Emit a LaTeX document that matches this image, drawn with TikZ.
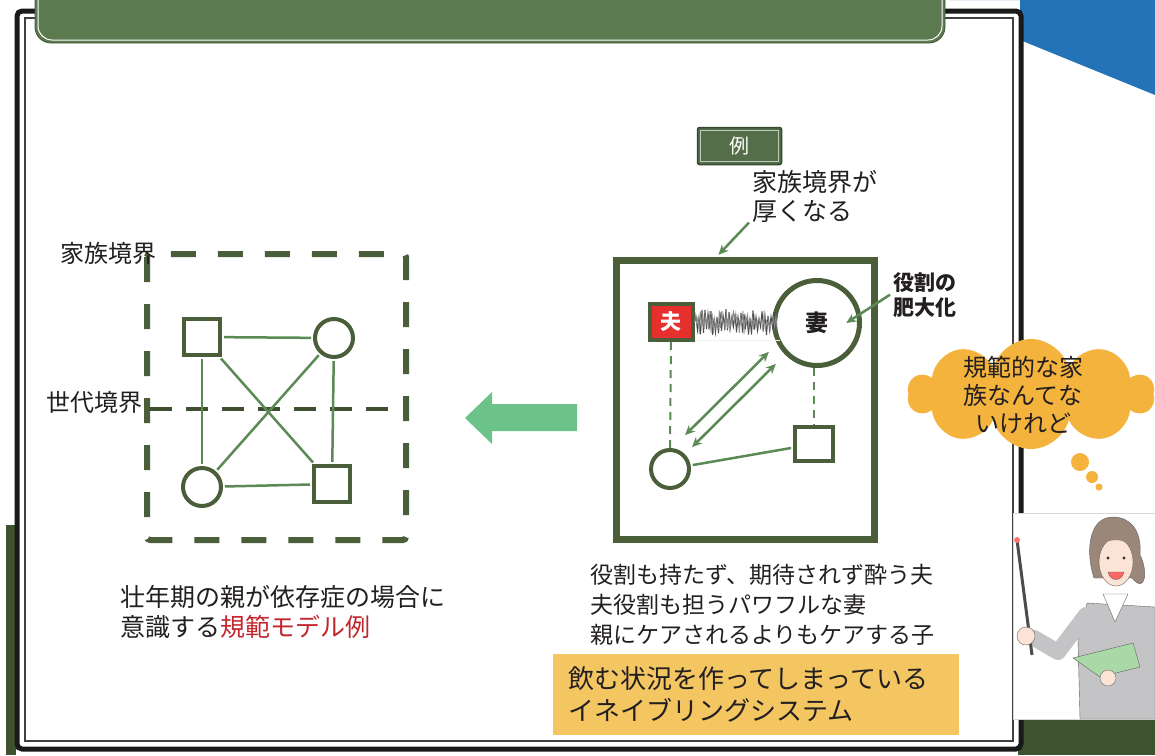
\documentclass[tikz,border=0pt]{standalone}
\usepackage{fontspec}
\setmainfont{Noto Sans CJK JP}
\usetikzlibrary{positioning,calc,shapes.symbols,arrows.meta}

\definecolor{boxgreen}{HTML}{4A5E3A}
\definecolor{linkgreen}{HTML}{5B8A55}
\definecolor{headgreen}{HTML}{5C7A50}
\definecolor{arrowgreen}{HTML}{6CC38A}
\definecolor{stripgreen}{HTML}{3E5230}
\definecolor{inkc}{HTML}{231F20}
\definecolor{husbandred}{HTML}{E5302E}
\definecolor{notered}{HTML}{C1272D}
\definecolor{noteyellow}{HTML}{F3C662}
\definecolor{cloudorange}{HTML}{F3B33D}
\definecolor{cornerblue}{HTML}{2473B8}
\definecolor{suitgray}{HTML}{C4C4C6}
\definecolor{hairbrown}{HTML}{9A8779}
\definecolor{skin}{HTML}{FBE4D5}
\definecolor{bookgreen}{HTML}{A9D9A6}

\tikzset{
  member/.style={draw=boxgreen, line width=4pt, fill=white, inner sep=0pt},
  male/.style={member, minimum width=36pt, minimum height=36pt},
  female/.style={member, circle, minimum size=38pt},
  link/.style={linkgreen, line width=2.5pt},
  tie/.style={linkgreen, line width=2pt, dash pattern=on 8pt off 6pt},
  pointer/.style={linkgreen, line width=2.5pt, -{Stealth[length=10pt,width=9pt]}},
  care/.style={linkgreen, line width=2.5pt, {Stealth[length=10pt,width=9pt]}-{Stealth[length=10pt,width=9pt]}},
  say/.style={text=inkc, align=left, inner sep=0pt},
}

\begin{document}
\begin{tikzpicture}[x=1pt,y=-1pt]
  \useasboundingbox (0,0) rectangle (1155,755);

  % corner decoration and side strips
  \fill[cornerblue] (950,0) -- (1155,0) -- (1155,95) -- (1020,40) -- (1020,0) -- cycle;
  \fill[stripgreen] (6,525) rectangle (16,755);
  \fill[stripgreen] (1018,718) rectangle (1155,755);

  % board
  \draw[black!90, line width=5pt, fill=white, rounded corners=5pt] (17,11) rectangle (1021,749);
  \draw[black!75, line width=1.2pt] (25,18) rectangle (1013,741);

  % title bar
  \fill[headgreen, rounded corners=16pt] (35,-20) rectangle (945,43);
  \draw[white, line width=1pt, rounded corners=14pt] (38,-20) rectangle (942,40);
  \draw[headgreen!70!black, line width=0.8pt, rounded corners=16pt] (35,-20) rectangle (945,43);

  % normative model
  \draw[boxgreen, line width=6pt, dash pattern=on 25pt off 22pt, rounded corners=3pt] (147,254) rectangle (406,540);
  \draw[boxgreen!85!black, line width=4pt, dash pattern=on 22pt off 14pt] (150,409) -- (402,409);
  \node[say, anchor=west, font=\fontsize{24}{28}\selectfont] (famline) at (60,253) {家族境界};
  \node[say, anchor=west, font=\fontsize{24}{28}\selectfont] (genline) at (46,402) {世代境界};

  \node[male] (lfather) at (202,337) {};
  \node[female] (lmother) at (334,338) {};
  \node[female] (ldaughter) at (202,487) {};
  \node[male] (lson) at (332,484) {};
  \draw[link, shorten <=2pt, shorten >=2pt] (lfather) -- (lmother);
  \draw[link, shorten <=2pt, shorten >=2pt] (lfather) -- (ldaughter);
  \draw[link, shorten <=2pt, shorten >=2pt] (lfather) -- (lson);
  \draw[link, shorten <=2pt, shorten >=2pt] (lmother) -- (ldaughter);
  \draw[link, shorten <=2pt, shorten >=2pt] (lmother) -- (lson);
  \draw[link, shorten <=2pt, shorten >=2pt] (ldaughter) -- (lson);

  \node[say, anchor=west, font=\fontsize{25}{30}\selectfont] (norm) at (120,612)
    {壮年期の親が依存症の場合に\\意識する\textcolor{notered}{規範モデル例}};

  % big arrow
  \fill[arrowgreen] (465,418) -- (492,392) -- (492,404) -- (577,404) -- (577,431) -- (492,431) -- (492,444) -- cycle;

  % example family
  \node[fill=headgreen!90!black, draw=headgreen!60!black, line width=1.5pt, rounded corners=2pt,
        minimum width=84pt, minimum height=37pt, text=white, font=\fontsize{20}{20}\selectfont] (example) at (739.5,146) {例};
  \draw[headgreen!40!white, line width=1pt] ([shift={(4,4)}]example.north west) rectangle ([shift={(-4,-4)}]example.south east);

  \node[say, anchor=north west, font=\fontsize{25}{29}\selectfont] (thicker) at (752,170) {家族境界が\\厚くなる};

  \node[draw=boxgreen, line width=7pt, minimum width=258pt, minimum height=279pt, inner sep=0pt] (family) at (745.5,400) {};
  \draw[pointer, shorten >=3pt] ([xshift=-3pt]thicker.south west) -- ($(family.north west)!0.39!(family.north east)$);

  \node[draw=boxgreen, line width=4pt, fill=husbandred, minimum width=43pt, minimum height=36pt, inner sep=0pt,
        text=white, font=\bfseries\fontsize{21}{21}\selectfont] (husband) at (671,322) {夫};
  \node[member, circle, line width=5pt, minimum size=85pt, text=inkc,
        font=\bfseries\fontsize{23}{23}\selectfont] (wife) at (817,323) {妻};
  \node[female] (daughter) at (670,469) {};
  \node[male, minimum width=38pt, minimum height=34pt] (son) at (814,444) {};

  % scribble between husband and wife
  \fill[black!5] ([yshift=-18pt]husband.east) rectangle ($(wife.west)+(8,18)$);
  \pgfmathsetseed{42}
  \draw[black!70, line width=1pt] (husband.east) foreach \k in {1,...,55} { -- ($(husband.east)+(\k*1.5,{(-1)^\k*(8+rand*5)})$) };
  \pgfmathsetseed{7}
  \draw[black!45, line width=0.7pt] (husband.east) foreach \k in {1,...,70} { -- ($(husband.east)+(\k*1.18,{(-1)^\k*(6+rand*6)})$) };

  \draw[tie] (husband.south) -- (daughter.north);
  \draw[tie] (son.north |- wife.south) -- (son.north);
  \draw[care] ($(daughter)!0.15!(wife)+(-7,-12)$) -- ($(daughter)!0.72!(wife)+(-7,-12)$);
  \draw[care] ($(daughter)!0.15!(wife)$) -- ($(daughter)!0.72!(wife)$);
  \draw[link, shorten <=2pt, shorten >=2pt] (daughter) -- (son);

  \node[say, anchor=north west, font=\bfseries\fontsize{21}{25}\selectfont] (bloat) at (893,272) {役割の\\肥大化};
  \draw[pointer] ([xshift=-3pt]bloat.west) -- ($(wife.center)!0.65!(wife.east)$);

  \node[say, anchor=west, font=\fontsize{23}{30}\selectfont] (roles) at (590,605)
    {役割も持たず、期待されず酔う夫\\夫役割も担うパワフルな妻\\親にケアされるよりもケアする子};

  \node[fill=noteyellow, anchor=north west, minimum height=81pt, text width=376pt, inner xsep=15pt,
        align=left, text=inkc, font=\fontsize{26}{32}\selectfont] (enabling) at (553,654)
    {飲む状況を作ってしまっている\\イネイブリングシステム};

  % thought bubble
  \node[cloud, cloud puffs=10, aspect=2.2, fill=cloudorange, minimum width=246pt, minimum height=110pt, inner sep=0pt] (thought) at (1031,394) {};
  \node[say, align=center, font=\fontsize{24}{28}\selectfont] (thoughttext) at (1023,395) {規範的な家\\族なんてな\\いけれど};
  \fill[cloudorange] (1080,462) circle (9pt);
  \fill[cloudorange] (1092,477) circle (6pt);
  \fill[cloudorange] (1099,487) circle (3.5pt);

  % presenter
  \fill[white] (1013,513) rectangle (1155,719);
  \draw[black!15] (1013,513) rectangle (1155,719);
  \draw[black!60, fill=suitgray] (1087,603) -- (1155,607) -- (1155,719) -- (1080,719) -- (1078,640) -- cycle;
  \draw[black!60, fill=white] (1103,594) -- (1115,622) -- (1128,594) -- cycle;
  \draw[black!60, fill=hairbrown] (1113,517) .. controls (1087,517) and (1086,555) .. (1094,578)
        -- (1132,578) .. controls (1146,595) and (1148,570) .. (1140,555)
        .. controls (1142,530) and (1130,517) .. (1113,517) -- cycle;
  \draw[black!60, fill=skin] (1116,562) ellipse (17pt and 24pt);
  \fill[hairbrown] (1099,548) .. controls (1105,528) and (1130,528) .. (1134,550) .. controls (1125,537) and (1108,537) .. (1099,548) -- cycle;
  \fill[black!80] (1108,558) circle (1.6pt) (1124,558) circle (1.6pt);
  \draw[black!60, fill=red!60!white] (1108,572) .. controls (1110,582) and (1122,582) .. (1124,572) -- cycle;
  \draw[suitgray, line width=16pt, line cap=round, line join=round] (1086,615) -- (1058,652) -- (1034,638);
  \draw[black!70, line width=3pt] (1017,540) -- (1032,655);
  \fill[red!55!white] (1017,540) circle (3pt);
  \draw[black!60, fill=skin] (1026,636) circle (9pt);
  \draw[black!60, fill=bookgreen] (1073,658) -- (1133,643) -- (1140,667) -- (1100,677) -- cycle;
  \draw[black!60, fill=skin] (1108,678) circle (8pt);
\end{tikzpicture}
\end{document}
